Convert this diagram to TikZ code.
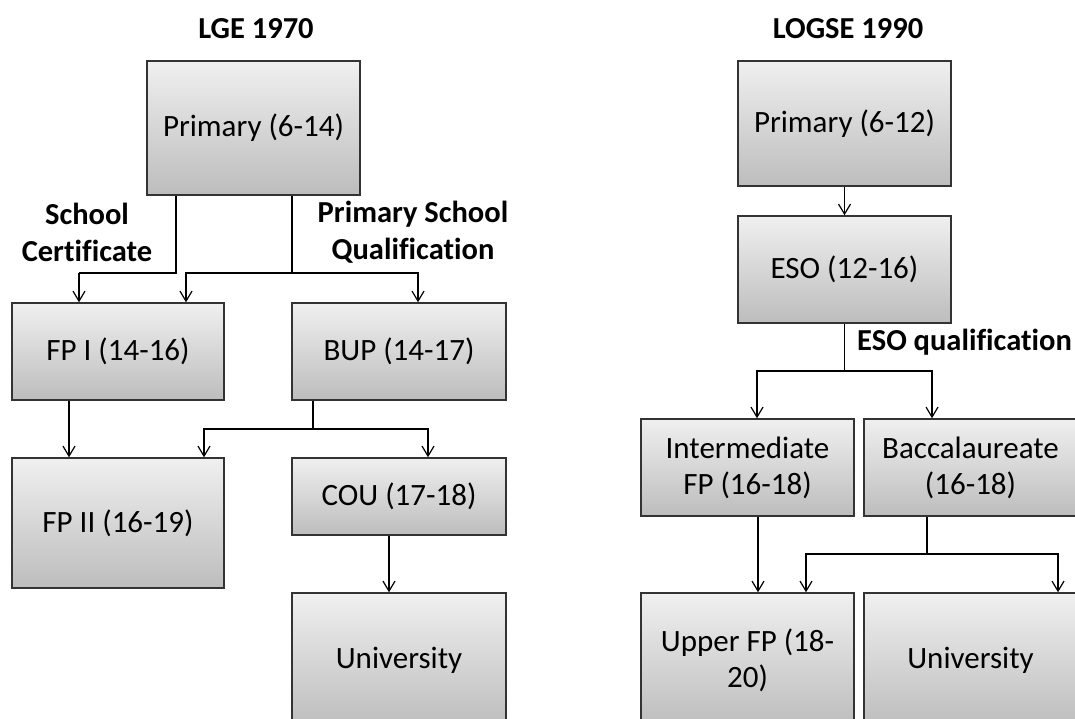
\documentclass[tikz,border=0pt]{standalone}
\usepackage{fontspec}
\setmainfont{Carlito}[Ligatures=NoCommon]
\usetikzlibrary{arrows.meta}
\begin{document}
\begin{tikzpicture}[x=1pt,y=-1pt,
  box/.style={draw=black!80,line width=1.5pt,top color=black!6,bottom color=black!26,
    inner sep=0pt,align=center,font=\fontsize{31}{36}\selectfont},
  lbl/.style={font=\fontsize{30.5}{37}\selectfont\bfseries,align=center,inner sep=0pt},
  conn/.style={draw=black,line width=1.3pt},
  arr/.style={conn,-{Straight Barb[length=10pt,width=12pt,line width=1.2pt]}}]
\useasboundingbox (0,0) rectangle (1075,718);
\clip (0,0) rectangle (1075,718);
% left: LGE 1970
\node[lbl] (t1) at (256,29) {LGE 1970};
\node[box,minimum width=213pt,minimum height=134pt] (p1) at (253.5,128) {Primary (6-14)};
\node[box,minimum width=212pt,minimum height=97pt] (fp1) at (118,351.5) {FP I (14-16)};
\node[box,minimum width=214pt,minimum height=97pt] (bup) at (399,351.5) {BUP (14-17)};
\node[box,minimum width=212pt,minimum height=130pt] (fp2) at (118,523) {FP II (16-19)};
\node[box,minimum width=214pt,minimum height=77pt] (cou) at (399,496.5) {COU (17-18)};
\node[box,minimum width=214pt,minimum height=134pt] (uni1) at (399,660) {University};
\node[lbl] (l1) at (87,232) {School\\Certificate};
\node[lbl] (l2) at (413,232) {Primary School\\Qualification};
\coordinate (j1) at (79,273);
\coordinate (j2) at (292,273);
\coordinate (j3) at (313,429);
\draw[conn] ([xshift=-77.5pt]p1.south) |- (j1);
\draw[arr] (j1) -- ([xshift=-39pt]fp1.north);
\draw[conn] ([xshift=38.5pt]p1.south) -- (j2);
\draw[arr] (j2) -| ([xshift=68pt]fp1.north);
\draw[arr] (j2) -| ([xshift=19pt]bup.north);
\draw[arr] ([xshift=-49pt]fp1.south) -- ([xshift=-49pt]fp2.north);
\draw[conn] ([xshift=-86pt]bup.south) -- (j3);
\draw[arr] (j3) -| ([xshift=86pt]fp2.north);
\draw[arr] (j3) -| ([xshift=29pt]cou.north);
\draw[arr] ([xshift=-10pt]cou.south) -- ([xshift=-10pt]uni1.north);
% right: LOGSE 1990
\node[lbl] (t2) at (848,29) {LOGSE 1990};
\node[box,minimum width=213pt,minimum height=125pt] (p2) at (844.5,123.5) {Primary (6-12)};
\node[box,minimum width=213pt,minimum height=107pt] (eso) at (844.5,269.5) {ESO (12-16)};
\node[box,minimum width=213pt,minimum height=97pt] (ifp) at (747.5,467.5) {Intermediate\\FP (16-18)};
\node[box,minimum width=213pt,minimum height=97pt] (bac) at (970.5,467.5) {Baccalaureate\\(16-18)};
\node[box,minimum width=213pt,minimum height=134pt] (ufp) at (747.5,660) {Upper FP (18-\\20)};
\node[box,minimum width=213pt,minimum height=134pt] (uni2) at (970.5,660) {University};
\node[lbl,anchor=west] (l3) at (857,342) {ESO qualification};
\coordinate (j4) at (844.5,371);
\coordinate (j5) at (927,554);
\draw[arr] (p2.south) -- (eso.north);
\draw[conn] (eso.south) -- (j4);
\draw[arr] (j4) -| ([xshift=9.5pt]ifp.north);
\draw[arr] (j4) -| ([xshift=-38.5pt]bac.north);
\draw[arr] ([xshift=10.5pt]ifp.south) -- ([xshift=10.5pt]ufp.north);
\draw[conn] ([xshift=-43.5pt]bac.south) -- (j5);
\draw[arr] (j5) -| ([xshift=58.5pt]ufp.north);
\draw[arr] (j5) -| ([xshift=87.5pt]uni2.north);
\end{tikzpicture}
\end{document}
